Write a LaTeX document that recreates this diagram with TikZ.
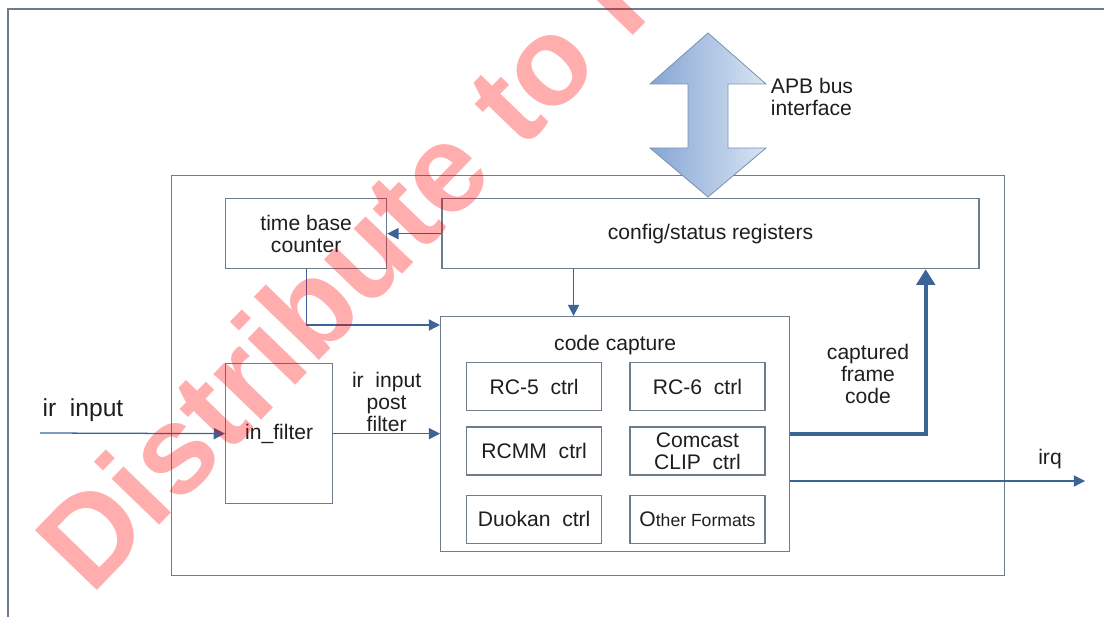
\documentclass[tikz,border=0pt]{standalone}
\usepackage{fontspec}
\setmainfont{Liberation Sans}
\usetikzlibrary{arrows.meta, positioning}
\definecolor{linegray}{HTML}{6E7D8E}
\definecolor{arrowblue}{HTML}{3C6496}
\definecolor{busdark}{HTML}{86A6D4}
\definecolor{buslight}{HTML}{D8E4F3}
\definecolor{busedge}{HTML}{7D93B3}
\definecolor{txt}{HTML}{1E1E1E}
\tikzstyle{block} = [rectangle, draw=linegray, line width=0.9pt, anchor=north west, inner sep=0pt, align=center]
\tikzstyle{ctrl} = [rectangle, draw=linegray, line width=0.9pt, minimum width=3.375cm, minimum height=1.2cm, text centered, align=center, inner sep=1pt]
\tikzstyle{arrow} = [draw=arrowblue, line width=0.9pt, -{Triangle[length=8pt, width=8pt]}]
\tikzstyle{thickarrow} = [draw=arrowblue, line width=2.6pt, -{Triangle[length=11pt, width=13pt]}]

\begin{document}
\begin{tikzpicture}[x=0.025cm, y=-0.025cm, font=\fontsize{15}{15.5}\selectfont, every node/.append style={text=txt}]
\useasboundingbox (0,0) rectangle (1104,617);

% Frame
\draw [linegray, line width=0.9pt] (1104,9) -- (8,9) -- (8,617);

% Blocks
\node (chip) [block, minimum width=20.825cm, minimum height=10cm] at (171,175) {};
\node (timebase) [block, minimum width=4.025cm, minimum height=1.75cm] at (225,198) {time base\\counter};
\node (regs) [block, minimum width=13.425cm, minimum height=1.75cm, right=1.35cm of timebase] {config/status registers};
\node (capture) [block, minimum width=8.725cm, minimum height=5.875cm] at (440,316) {};
\node (captitle) at ([yshift=-0.725cm]capture.north) {code capture};
\node (filter) [block, minimum width=2.675cm, minimum height=3.5cm] at (225,363) {in\_filter};

% Decoders
\node (rcfive) [ctrl, anchor=north west] at (466,362) {RC-5~~ctrl};
\node (rcsix) [ctrl, right=0.675cm of rcfive] {RC-6~~ctrl};
\node (rcmm) [ctrl, below=0.375cm of rcfive] {RCMM~~ctrl};
\node (comcast) [ctrl, below=0.375cm of rcsix] {Comcast\\CLIP~~ctrl};
\node (duokan) [ctrl, below=0.475cm of rcmm] {Duokan~~ctrl};
\node (other) [ctrl, below=0.475cm of comcast] {O{\fontsize{12.5}{14}\selectfont ther~Formats}};

% APB bus
\shade [left color=busdark, right color=buslight, draw=busedge, line width=0.6pt]
  (708,33) -- (766,84) -- (728,84) -- (728,148) -- (766,148) -- (708,197)
  -- (650,148) -- (688,148) -- (688,84) -- (650,84) -- cycle;
\node (apblabel) [anchor=west, align=left] at (766,97) {APB bus\\interface};

% Connections
\draw [arrow] (regs.west) -- (timebase.east);
\draw [arrow] (timebase.south) |- ([yshift=-0.225cm]capture.north west);
\coordinate (capin) at ([xshift=-1.04cm]capture.north);
\draw [arrow] (regs.south -| capin) -- (capin);
\coordinate (irsrc) at (40,433);
\draw [arrow] (irsrc) -- (filter.west);
\node (irlabel) [font=\fontsize{17.5}{18}\selectfont] at (83,410) {ir~~input};
\draw [arrow] (filter.east) -- (filter.east -| capture.west)
  node (postlabel) [midway, above, align=center, inner sep=1pt] {ir~~input\\post\\filter};
\coordinate (capout) at ([xshift=-1.35cm]regs.south east);
\draw [thickarrow] (capture.east) -| (capout);
\node (framelabel) [align=center] at (868,374) {captured\\frame\\code};
\coordinate (irqend) at (1085,481);
\draw [arrow] (capture.east |- irqend) -- (irqend);
\node (irqlabel) at (1050,459) {irq};

% Watermark
\node (stamp) [rotate=46, anchor=base west, inner sep=0pt, text=red, text opacity=0.32, font=\fontsize{89}{89}\selectfont\bfseries] at (91,597) {Distribute to I};

\end{tikzpicture}
\end{document}
